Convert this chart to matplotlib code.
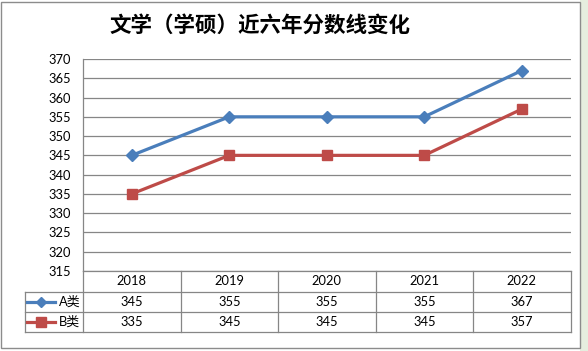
import matplotlib
matplotlib.use("Agg")
import matplotlib.pyplot as plt
from matplotlib.patches import Rectangle

years = ["2018", "2019", "2020", "2021", "2022"]
series_names = ["A类", "B类"]
a_values = [345, 355, 355, 355, 367]
b_values = [335, 345, 345, 345, 357]
y_ticks = [315, 320, 325, 330, 335, 340, 345, 350, 355, 360, 365, 370]
title = "文学（学硕）近六年分数线变化"

W, H = 588, 351
fig = plt.figure(figsize=(W / 100, H / 100), dpi=100)
fig.patch.set_facecolor("white")

FONT = ["Lato", "Noto Sans CJK SC", "DejaVu Sans"]
TFONT = ["Noto Sans CJK SC", "DejaVu Sans"]
blue = "#4A7EBB"
red = "#BE4B48"
grid_c = "#868686"
FS = 9.3

def fx(px):
    return px / W

def fy(py):
    return 1 - py / H

# outer chart frame and spreadsheet edge strip
fig.patches.append(Rectangle((fx(580), 0), fx(8), 1, transform=fig.transFigure,
                             facecolor="#E6EEDF", edgecolor="none", zorder=-3))
fig.patches.append(Rectangle((fx(1.5), fy(348)), fx(578.5), fy(1.5) - fy(348),
                             transform=fig.transFigure, facecolor="white",
                             edgecolor="#8C8C8C", linewidth=1.0, zorder=-2))

fig.text(fx(260), fy(25), title, ha="center", va="center", fontsize=15.5,
         fontweight="bold", family=TFONT, color="#000000")

# main plot axes
L, R, T, B = 83, 570.5, 59, 271
ax = fig.add_axes([fx(L), fy(B), fx(R - L), fy(T) - fy(B)])
ax.set_facecolor("none")
x = list(range(len(years)))
ax.plot(x, a_values, color=blue, lw=2.3, marker="D", ms=6.5, mec=blue, mfc=blue, zorder=3)
ax.plot(x, b_values, color=red, lw=2.3, marker="s", ms=7, mec=red, mfc=red, zorder=3)
ax.set_xlim(-0.5, len(years) - 0.5)
ax.set_ylim(y_ticks[0], y_ticks[-1])
ax.set_yticks(y_ticks)
ax.set_yticklabels([str(t) for t in y_ticks], family=FONT, fontsize=FS)
ax.tick_params(axis="y", length=0, pad=9)
ax.set_xticks([])
for t in y_ticks:
    ax.axhline(t, color=grid_c, lw=0.9, zorder=1)
for s in ["top", "right", "bottom"]:
    ax.spines[s].set_visible(False)
ax.spines["left"].set_color(grid_c)
ax.spines["left"].set_linewidth(0.9)

# data table
TL = 24.5
tab = fig.add_axes([fx(TL), fy(332), fx(R - TL), fy(271) - fy(332)])
tab.set_xlim(TL, R)
tab.set_ylim(332, 271)
tab.axis("off")
rows = [271, 292, 312, 332]
colw = (R - L) / len(years)
lw = 0.9
for i, yy in enumerate(rows):
    x0 = L if i == 0 else TL
    tab.plot([x0, R], [yy, yy], color=grid_c, lw=lw, clip_on=False)
for j in range(len(years) + 1):
    xx = L + j * colw
    tab.plot([xx, xx], [271, 332], color=grid_c, lw=lw, clip_on=False)
tab.plot([TL, TL], [292, 332], color=grid_c, lw=lw, clip_on=False)

for j, yr in enumerate(years):
    cx = L + (j + 0.5) * colw
    tab.text(cx, (rows[0] + rows[1]) / 2, yr, ha="center", va="center",
             family=FONT, fontsize=FS)
    tab.text(cx, (rows[1] + rows[2]) / 2, str(a_values[j]), ha="center", va="center",
             family=FONT, fontsize=FS)
    tab.text(cx, (rows[2] + rows[3]) / 2, str(b_values[j]), ha="center", va="center",
             family=FONT, fontsize=FS)

for k, (name, col, mk, ms) in enumerate([(series_names[0], blue, "D", 5.5),
                                          (series_names[1], red, "s", 6.5)]):
    yc = (rows[k + 1] + rows[k + 2]) / 2
    tab.plot([27, 55], [yc, yc], color=col, lw=2.3, clip_on=False)
    tab.plot([41], [yc], marker=mk, ms=ms, color=col, clip_on=False)
    tab.text(59, yc, name, ha="left", va="center", family=FONT, fontsize=FS)

fig.savefig("out.png", dpi=100, facecolor=fig.get_facecolor())
